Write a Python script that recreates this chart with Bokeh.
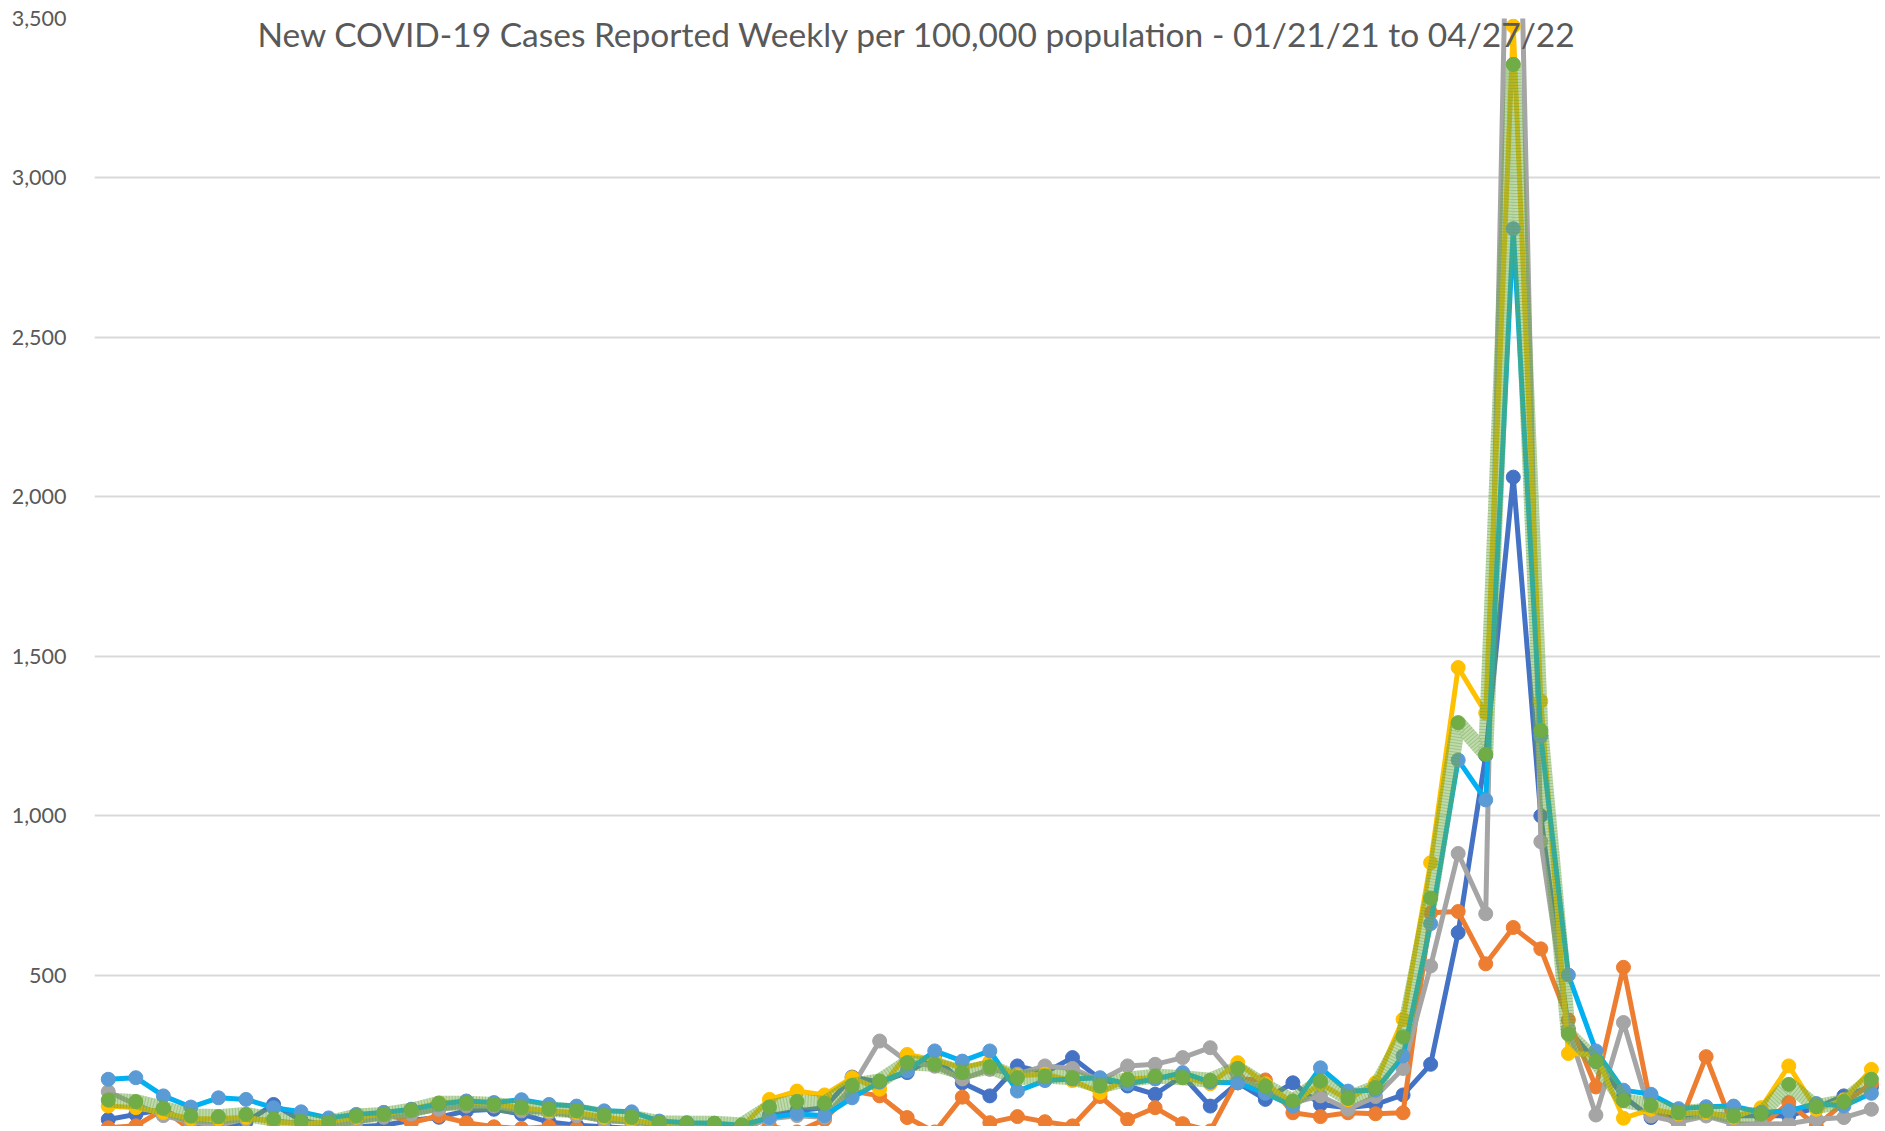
import numpy as np
from bokeh.plotting import figure
from bokeh.models import Range1d, FixedTicker, NumeralTickFormatter, Label
from bokeh.embed import file_html
from bokeh.resources import INLINE

title_text = "New COVID-19 Cases Reported Weekly per 100,000 population - 01/21/21 to 04/27/22"
y_ticks = [0, 500, 1000, 1500, 2000, 2500, 3000, 3500]

dark_blue = [48, 64, 80, 30, 25, 40, 95, 45, 30, 25, 30, 45, 55, 75, 80, 65, 40, 30, 25, 20,
             15, 15, 10, 10, 60, 75, 85, 181, 165, 195, 245, 163, 122, 216, 195, 242, 175, 153, 127, 185,
             90, 163, 111, 163, 95, 85, 95, 125, 221, 634, 1190, 2062, 1000, 330, 230, 120, 54, 60, 65, 60,
             60, 59, 85, 122, 150]
orange = [22, 28, 80, 15, 15, 10, 15, 10, 20, 55, 70, 38, 59, 38, 25, 20, 25, 20, 15, 10,
          10, 5, 5, 5, 28, 9, 48, 137, 122, 54, 9, 118, 38, 57, 41, 28, 120, 48, 85, 35,
          12, 175, 172, 69, 57, 69, 66, 69, 696, 700, 536, 650, 583, 360, 150, 525, 90, 25, 245, 20,
          25, 101, 27, 100, 160]
gray = [135, 95, 60, 40, 30, 50, 45, 35, 25, 40, 55, 65, 80, 90, 90, 75, 70, 60, 45, 40,
        30, 25, 20, 20, 50, 60, 55, 150, 294, 230, 215, 175, 205, 190, 216, 208, 170, 216, 221, 242,
        273, 170, 150, 100, 122, 80, 120, 208, 529, 882, 693, 4850, 919, 330, 62, 352, 59, 40, 59, 35,
        33, 35, 49, 54, 80]
yellow = [90, 85, 70, 50, 50, 55, 40, 35, 40, 55, 65, 80, 100, 105, 95, 85, 75, 70, 55, 45,
          35, 30, 30, 25, 111, 137, 125, 179, 143, 252, 235, 210, 230, 185, 190, 170, 132, 175, 180, 180,
          160, 226, 160, 100, 160, 110, 163, 362, 853, 1465, 1323, 3476, 1360, 255, 252, 52, 80, 65, 70, 55,
          85, 216, 80, 110, 205]
light_blue = [174, 179, 122, 87, 116, 111, 85, 72, 53, 64, 70, 80, 96, 106, 101, 110, 95, 90, 75, 72,
              43, 38, 36, 30, 54, 66, 60, 116, 165, 200, 263, 231, 263, 137, 170, 175, 179, 160, 175, 195,
              165, 163, 130, 90, 210, 137, 140, 247, 662, 1175, 1050, 2841, 1250, 501, 263, 140, 127, 82, 88, 90,
              70, 75, 98, 90, 130]
green = [109, 104, 83, 59, 57, 64, 49, 41, 38, 59, 64, 77, 99, 99, 95, 85, 80, 75, 60, 55,
         38, 36, 36, 31, 87, 104, 99, 155, 169, 226, 221, 195, 213, 179, 184, 179, 153, 174, 184, 179,
         171, 208, 153, 106, 168, 114, 148, 307, 742, 1292, 1193, 3356, 1268, 316, 230, 107, 92, 69, 76, 59,
         65, 158, 88, 104, 174]

weeks = np.arange(len(green))

p = figure(width=1880, height=1126, output_backend="svg", toolbar_location=None,
           x_axis_location=None, min_border_left=94, min_border_right=0,
           min_border_top=18, min_border_bottom=0)
p.x_range = Range1d(-0.5, 64.33)
p.y_range = Range1d(26, 3500)
p.outline_line_color = None
p.background_fill_color = "white"
p.border_fill_color = "white"
p.xgrid.grid_line_color = None
p.ygrid.grid_line_color = "#D9D9D9"
p.ygrid.grid_line_width = 2
p.ygrid.ticker = FixedTicker(ticks=y_ticks)

ax = p.yaxis[0]
ax.ticker = FixedTicker(ticks=y_ticks)
ax.formatter = NumeralTickFormatter(format="0,0")
ax.axis_line_color = None
ax.major_tick_line_color = None
ax.minor_tick_line_color = None
ax.major_tick_out = 0
ax.major_tick_in = 0
ax.major_label_standoff = 28
ax.major_label_text_font = "Lato"
ax.major_label_text_font_size = "21.5px"
ax.major_label_text_color = "#595959"

LW = 5
MS = 14

def series(vals, line_color, marker_color):
    p.line(weeks, vals, line_color=line_color, line_width=LW, line_join="round")
    p.scatter(weeks, vals, size=MS, fill_color=marker_color, line_color=marker_color)

series(dark_blue, "#4472C4", "#4472C4")
series(orange, "#ED7D31", "#ED7D31")
series(gray, "#A5A5A5", "#A5A5A5")
series(yellow, "#FFC000", "#FFC000")
series(light_blue, "#00B0F0", "#5B9BD5")

# patterned thick band for the green series
p.line(weeks, green, line_color="#70AD47", line_width=15, line_alpha=0.45, line_join="round")
p.line(weeks, green, line_color="#5E9A38", line_width=15, line_alpha=0.35, line_dash="1 2", line_join="round")
p.scatter(weeks, green, size=MS, fill_color="#70AD47", line_color="#70AD47")

title_x = 29.37
title_y = 3452
p.add_layout(Label(x=title_x, y=title_y, text=title_text, text_align="center",
                   text_baseline="alphabetic", text_font="Lato", text_font_size="33.5px",
                   text_color="#595959"))

open("out.html", "w").write(file_html(p, INLINE))
